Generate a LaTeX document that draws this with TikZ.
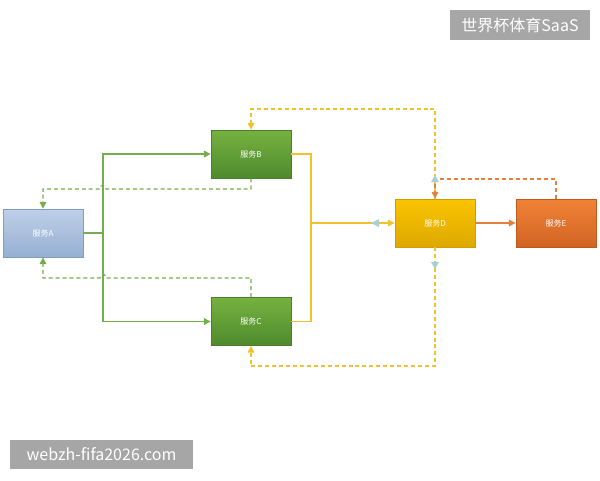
\documentclass[tikz,border=0pt]{standalone}
\usepackage{fontspec}
\newfontfamily\cjk{Noto Sans CJK SC}
\usetikzlibrary{arrows.meta}
\definecolor{gline}{HTML}{74AE4C}
\definecolor{yline}{HTML}{F2C12E}
\definecolor{oline}{HTML}{E2803F}
\definecolor{ltblue}{HTML}{A9CFD6}
\definecolor{wmgray}{HTML}{A6A6A6}
\definecolor{aborder}{RGB}{127,157,192}
\definecolor{atop}{RGB}{190,208,232}
\definecolor{abot}{RGB}{150,175,210}
\definecolor{gborder}{RGB}{76,125,44}
\definecolor{gtop}{RGB}{118,178,64}
\definecolor{gbot}{RGB}{78,138,44}
\definecolor{dborder}{RGB}{200,160,0}
\definecolor{dtop}{RGB}{250,196,0}
\definecolor{dbot}{RGB}{222,168,0}
\definecolor{eborder}{RGB}{190,90,30}
\definecolor{etop}{RGB}{240,130,55}
\definecolor{ebot}{RGB}{210,100,35}
\begin{document}
\begin{tikzpicture}[x=0.75pt,y=-0.75pt,
  svc/.style={draw, minimum width=60pt, minimum height=36pt, inner sep=0pt,
    text=white, font=\cjk\fontsize{6}{7}\selectfont, line width=0.6pt},
  tip/.style={-{Triangle[length=5pt,width=5pt]}},
  solidg/.style={draw=gline, line width=0.8pt},
  dashg/.style={draw=gline, line width=0.8pt, dash pattern=on 3pt off 2.2pt},
  solidy/.style={draw=yline, line width=0.8pt},
  dashy/.style={draw=yline, line width=0.8pt, dash pattern=on 3pt off 2.2pt},
  solido/.style={draw=oline, line width=0.8pt},
  dasho/.style={draw=oline, line width=0.8pt, dash pattern=on 3pt off 2.2pt},
  wm/.style={fill=wmgray, text=white, inner sep=0pt, font=\cjk\fontsize{12}{14}\selectfont}
]
\useasboundingbox (0,0) rectangle (600,480);

% service nodes
\node[svc, draw=aborder, top color=atop, bottom color=abot] (A) at (43,233) {服务A};
\node[svc, draw=gborder, top color=gtop, bottom color=gbot] (B) at (251,154) {服务B};
\node[svc, draw=gborder, top color=gtop, bottom color=gbot] (C) at (251,321.5) {服务C};
\node[svc, draw=dborder, top color=dtop, bottom color=dbot] (D) at (435,223) {服务D};
\node[svc, draw=eborder, top color=etop, bottom color=ebot] (E) at (556,223) {服务E};

% junction coordinates
\coordinate (ja) at (103,233);
\coordinate (jd) at (311,223);
\coordinate (bt) at (251,109);
\coordinate (dt) at (435,109);
\coordinate (cb) at (251,366);
\coordinate (db) at (435,366);
\coordinate (et) at (556,179);
\coordinate (dm) at (435,179);

% green solid A -> B, C
\draw[solidg, tip] (A.east) -- (ja) |- (B.west);
\draw[solidg, tip] (ja) |- (C.west);

% green dashed B -> A, C -> A (with line hops)
\draw[dashg, tip] (B.south) -- (251,189) -- (106,189) .. controls (106,184) and (100,184) .. (100,189) -- (43,189) -- (A.north);
\draw[dashg, tip] (C.north) -- (251,278) -- (106,278) .. controls (106,273) and (100,273) .. (100,278) -- (43,278) -- (A.south);

% yellow solid B, C -> D
\draw[solidy] (B.east) -- (311,154) -- (311,321.5) -- (C.east);
\draw[solidy, tip] (jd) -- (D.west);

% yellow dashed D -> B, D -> C
\draw[dashy, tip] (D.north) -- (dt) -- (bt) -- (B.north);
\draw[dashy, tip] (D.south) -- (db) -- (cb) -- (C.south);

% orange D -> E, E -> D
\draw[solido, tip] (D.east) -- (E.west);
\draw[dasho, tip] (E.north) -- (et) -- (dm) -- (D.north);

% light blue connector ends
\fill[ltblue] (371,223) -- (379,219) -- (379,227) -- cycle;
\fill[ltblue] (435,175) -- (431,182) -- (439,182) -- cycle;
\fill[ltblue] (435,269) -- (431,262) -- (439,262) -- cycle;

% watermark labels
\node[wm, minimum width=105pt, minimum height=22.5pt] (wt) at (520,25) {世界杯体育SaaS};
\node[wm, minimum width=137pt, minimum height=22pt] (wb) at (101.5,454.5) {webzh-fifa2026.com};
\end{tikzpicture}
\end{document}
